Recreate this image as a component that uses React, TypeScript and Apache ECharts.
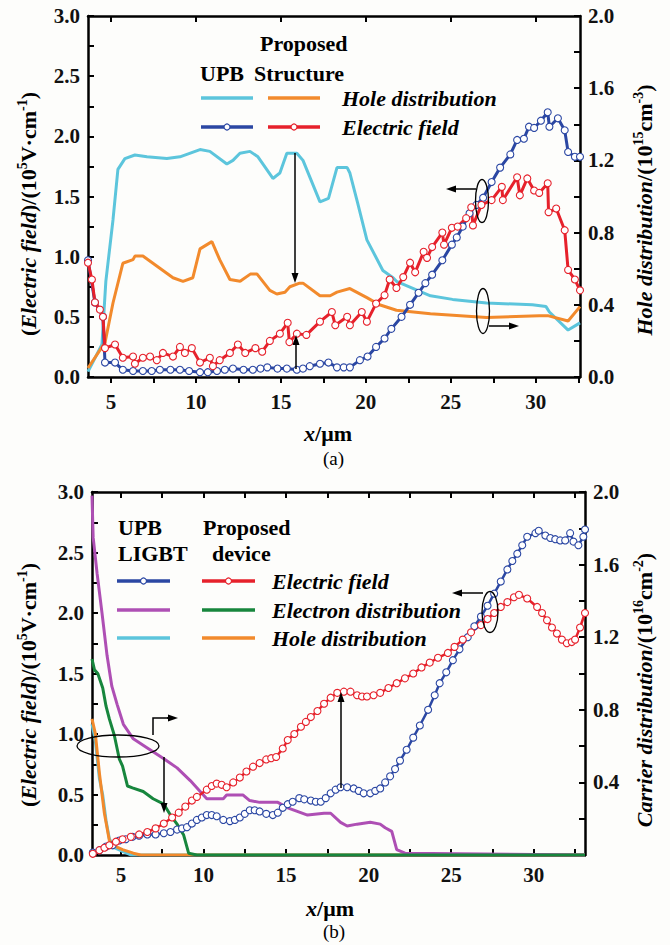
import React, { useEffect, useRef } from "react";
import * as echarts from "echarts";

type Pt = [number, number];

// ---------- Panel (a): x in µm ----------
// hole distribution, 10^15 cm^-3 (right axis)
const aUpbHole: Pt[] = [
  [3.65, 0.03], [4.47, 0.18], [4.7, 0.53], [5.12, 0.87], [5.41, 1.15], [5.82, 1.21], [6.41, 1.23],
  [7.12, 1.22], [8.29, 1.21], [9.06, 1.22], [10.24, 1.26], [10.82, 1.25], [11.82, 1.18], [12.18, 1.2],
  [12.59, 1.24], [13.18, 1.25], [13.65, 1.22], [14.53, 1.1], [14.94, 1.13], [15.35, 1.24], [15.94, 1.24],
  [16.3, 1.2], [17.3, 0.97], [17.8, 0.99], [18.3, 1.16], [18.9, 1.16], [19.06, 1.13], [19.5, 0.97],
  [20.06, 0.76], [21.0, 0.59], [21.6, 0.55], [21.8, 0.53], [22.8, 0.49], [23.8, 0.45], [25.1, 0.43],
  [27.1, 0.41], [29.8, 0.4], [30.6, 0.39], [30.8, 0.36], [31.9, 0.26], [32.6, 0.3],
];
const aPropHole: Pt[] = [
  [3.65, 0.05], [4.65, 0.19], [5.12, 0.41], [5.7, 0.63], [6.3, 0.65], [6.41, 0.67], [6.88, 0.67],
  [8.65, 0.55], [9.24, 0.53], [9.82, 0.55], [10.24, 0.71], [10.94, 0.75], [11.4, 0.65], [12.0, 0.54],
  [12.6, 0.53], [13.2, 0.57], [13.6, 0.57], [14.35, 0.48], [14.76, 0.46], [15.24, 0.47], [15.53, 0.5],
  [16.1, 0.52], [16.3, 0.52], [17.3, 0.45], [17.9, 0.45], [18.3, 0.47], [19.06, 0.49], [20.06, 0.44],
  [20.8, 0.4], [21.8, 0.37], [22.8, 0.36], [23.8, 0.35], [27.1, 0.33], [30.2, 0.34], [30.7, 0.34],
  [31.9, 0.31], [32.6, 0.39],
];
// electric field, 10^5 V/cm (left axis)
const aUpbField: Pt[] = [
  [3.65, 0.97], [4.06, 0.62], [4.53, 0.5], [4.65, 0.12], [5.24, 0.12], [5.7, 0.06], [6.3, 0.05],
  [6.88, 0.05], [7.4, 0.05], [7.88, 0.06], [8.5, 0.06], [9.06, 0.06], [9.6, 0.05], [10.24, 0.04],
  [10.7, 0.04], [11.24, 0.05], [11.7, 0.06], [12.18, 0.07], [12.8, 0.06], [13.35, 0.06], [13.8, 0.07],
  [14.2, 0.08], [14.8, 0.07], [15.35, 0.07], [15.94, 0.06], [16.3, 0.07], [16.7, 0.09], [17.3, 0.11],
  [17.8, 0.12], [18.3, 0.08], [18.7, 0.08], [19.06, 0.08], [19.65, 0.14], [20.1, 0.17], [20.6, 0.25],
  [21.1, 0.32], [21.5, 0.4], [22.1, 0.5], [22.6, 0.6], [23.1, 0.7], [23.5, 0.78], [23.9, 0.85],
  [24.5, 0.97], [25.06, 1.1], [25.35, 1.16], [25.7, 1.25], [26.1, 1.36], [26.5, 1.43], [26.9, 1.49],
  [27.4, 1.62], [27.9, 1.74], [28.5, 1.85], [28.9, 1.97], [29.3, 1.98], [29.6, 2.08], [29.9, 2.07],
  [30.3, 2.13], [30.7, 2.2], [30.8, 2.08], [31.3, 2.15], [31.7, 2.05], [31.9, 1.87], [32.3, 1.83],
  [32.6, 1.83],
];
const aPropField: Pt[] = [
  [3.65, 0.95], [3.88, 0.81], [4.06, 0.62], [4.35, 0.56], [4.53, 0.5], [4.65, 0.24], [5.24, 0.27],
  [5.7, 0.16], [6.3, 0.17], [6.41, 0.11], [6.88, 0.16], [7.3, 0.17], [7.7, 0.14], [8.06, 0.2],
  [8.65, 0.17], [9.06, 0.25], [9.35, 0.2], [9.76, 0.24], [10.24, 0.12], [10.82, 0.16], [11.0, 0.09],
  [11.4, 0.14], [12.0, 0.2], [12.47, 0.27], [12.9, 0.2], [13.5, 0.24], [13.9, 0.21], [14.35, 0.3],
  [14.94, 0.36], [15.4, 0.45], [15.5, 0.29], [15.94, 0.36], [16.5, 0.35], [17.3, 0.46], [18.0, 0.54],
  [18.2, 0.43], [18.9, 0.5], [19.06, 0.43], [19.76, 0.54], [20.06, 0.46], [20.6, 0.61], [21.1, 0.68],
  [21.4, 0.81], [21.8, 0.74], [22.2, 0.83], [22.6, 0.95], [22.9, 0.87], [23.4, 1.04], [23.6, 0.99],
  [23.9, 1.08], [24.5, 1.2], [24.6, 1.1], [25.06, 1.24], [25.4, 1.25], [25.9, 1.32], [26.2, 1.41],
  [26.3, 1.26], [26.8, 1.43], [27.4, 1.47], [28.0, 1.58], [28.06, 1.47], [28.9, 1.66], [29.06, 1.51],
  [29.5, 1.65], [29.9, 1.55], [30.2, 1.53], [30.7, 1.61], [30.75, 1.37], [31.2, 1.4], [31.7, 1.22],
  [31.9, 0.89], [32.3, 0.81], [32.6, 0.72],
];

// ---------- Panel (b) ----------
// electric field, 10^5 V/cm (left axis)
const bUpbField: Pt[] = [
  [3.3, 0.02], [3.7, 0.04], [4.1, 0.07], [4.5, 0.08], [4.9, 0.12], [5.3, 0.13], [5.7, 0.15], [6.1, 0.16],
  [6.6, 0.17], [7.1, 0.17], [7.6, 0.18], [8.0, 0.19], [8.4, 0.21], [8.7, 0.22], [9.0, 0.23], [9.3, 0.26],
  [9.6, 0.29], [9.9, 0.31], [10.2, 0.33], [10.5, 0.33], [10.8, 0.32], [11.2, 0.29], [11.6, 0.28],
  [11.9, 0.29], [12.2, 0.31], [12.5, 0.34], [12.8, 0.37], [13.1, 0.37], [13.4, 0.36], [13.8, 0.34],
  [14.2, 0.33], [14.5, 0.35], [14.8, 0.39], [15.1, 0.42], [15.4, 0.44], [15.8, 0.47], [16.1, 0.46],
  [16.5, 0.45], [16.8, 0.44], [17.1, 0.44], [17.4, 0.47], [17.7, 0.51], [18.0, 0.54], [18.3, 0.56],
  [18.7, 0.56], [19.1, 0.55], [19.4, 0.53], [19.7, 0.51], [20.1, 0.51], [20.4, 0.53], [20.7, 0.55],
  [21.0, 0.6], [21.3, 0.65], [21.6, 0.71], [21.9, 0.78], [22.3, 0.87], [22.7, 0.97], [23.1, 1.07],
  [23.6, 1.2], [24.0, 1.32], [24.3, 1.42], [24.7, 1.51], [25.1, 1.61], [25.5, 1.7], [26.0, 1.8],
  [26.4, 1.89], [26.8, 1.97], [27.2, 2.06], [27.6, 2.16], [28.0, 2.26], [28.4, 2.36], [28.7, 2.43],
  [29.0, 2.49], [29.3, 2.56], [29.6, 2.63], [30.1, 2.66], [30.3, 2.68], [30.7, 2.64], [31.0, 2.62],
  [31.3, 2.61], [31.6, 2.6], [31.9, 2.6], [32.2, 2.66], [32.4, 2.59], [32.7, 2.56], [33.0, 2.63],
  [33.1, 2.69],
];
const bPropField: Pt[] = [
  [3.3, 0.01], [3.7, 0.04], [4.0, 0.06], [4.3, 0.08], [4.7, 0.11], [5.1, 0.13], [5.6, 0.15], [6.1, 0.17],
  [6.6, 0.19], [7.1, 0.22], [7.6, 0.26], [8.1, 0.31], [8.5, 0.35], [8.9, 0.4], [9.3, 0.45], [9.6, 0.48],
  [10.2, 0.54], [10.5, 0.57], [10.8, 0.59], [11.1, 0.58], [11.4, 0.56], [11.8, 0.6], [12.2, 0.64],
  [12.6, 0.69], [13.0, 0.73], [13.4, 0.76], [13.8, 0.79], [14.1, 0.8], [14.4, 0.81], [14.8, 0.88],
  [15.1, 0.95], [15.5, 1.0], [15.9, 1.06], [16.2, 1.1], [16.5, 1.14], [16.9, 1.19], [17.3, 1.25],
  [17.7, 1.3], [18.1, 1.34], [18.5, 1.35], [18.9, 1.35], [19.3, 1.32], [19.6, 1.31], [19.9, 1.31],
  [20.3, 1.32], [20.7, 1.34], [21.2, 1.38], [21.7, 1.42], [22.2, 1.46], [22.7, 1.5], [23.2, 1.55],
  [23.7, 1.59], [24.2, 1.63], [24.8, 1.67], [25.2, 1.72], [25.7, 1.78], [26.2, 1.84], [26.8, 1.9],
  [27.2, 1.95], [27.6, 2.0], [28.0, 2.05], [28.4, 2.09], [28.8, 2.13], [29.1, 2.15], [29.6, 2.12],
  [30.2, 2.05], [30.5, 2.0], [30.8, 1.94], [31.1, 1.88], [31.4, 1.83], [31.7, 1.78], [32.0, 1.75],
  [32.3, 1.76], [32.5, 1.78], [32.8, 1.88], [33.1, 2.0],
];
// carrier distribution, 10^16 cm^-2 (right axis)
const bUpbElectron: Pt[] = [
  [3.25, 1.98], [3.32, 1.75], [3.56, 1.55], [3.86, 1.33], [4.16, 1.1], [4.45, 0.93], [4.77, 0.83],
  [5.15, 0.72], [5.75, 0.64], [6.6, 0.59], [7.6, 0.53], [8.4, 0.48], [9.2, 0.41], [9.8, 0.35],
  [10.2, 0.31], [11.2, 0.31], [11.4, 0.33], [12.4, 0.33], [12.8, 0.3], [13.4, 0.29], [14.5, 0.29],
  [15.1, 0.26], [16.3, 0.22], [17.3, 0.23], [17.7, 0.23], [18.3, 0.18], [18.7, 0.16], [19.3, 0.17],
  [20.1, 0.18], [20.7, 0.17], [21.0, 0.15], [21.4, 0.13], [21.7, 0.03], [22.2, 0.01], [33.1, 0.0],
];
const bPropElectron: Pt[] = [
  [3.25, 1.08], [3.4, 1.02], [3.6, 1.0], [3.9, 0.92], [4.1, 0.82], [4.3, 0.75], [4.6, 0.66], [4.9, 0.53],
  [5.1, 0.49], [5.4, 0.38], [5.7, 0.37], [6.35, 0.35], [6.95, 0.31], [7.6, 0.28], [8.0, 0.22],
  [8.4, 0.17], [8.8, 0.11], [9.1, 0.01], [9.6, 0.0], [33.1, 0.0],
];
const bUpbHole: Pt[] = [
  [3.25, 0.72], [3.45, 0.63], [3.7, 0.42], [3.9, 0.33], [4.1, 0.19], [4.3, 0.09], [4.6, 0.04],
  [5.1, 0.02], [5.6, 0.0], [33.1, 0.0],
];
const bPropHole: Pt[] = [
  [3.25, 0.75], [3.45, 0.67], [3.7, 0.45], [4.0, 0.23], [4.3, 0.08], [4.6, 0.05], [5.1, 0.03],
  [5.75, 0.01], [6.2, 0.0], [33.1, 0.0],
];

// tick positions
const xLabelTicks = [5, 10, 15, 20, 25, 30];
const xAllTicks = [5, 7.5, 10, 12.5, 15, 17.5, 20, 22.5, 25, 27.5, 30, 32.5];

const FONT = "Liberation Serif";
const COL = {
  cyan: "#5cc5dc",
  orange: "#f28a2c",
  blue: "#2b47a3",
  red: "#e6212b",
  purple: "#ae4fb4",
  green: "#17863d",
};

const labelStyle = { fontFamily: FONT, fontWeight: "bold", fontSize: 21, color: "#111" };
const axisLine = { show: true, onZero: false, lineStyle: { color: "#000", width: 2.5 } };
const tickLine = { color: "#000", width: 2 };

function xAxisDef(grid: number, min: number, max: number, pos: "top" | "bottom", ticks: number[], labels: number[] | null, inside: boolean, margin: number) {
  return {
    type: "value", gridIndex: grid, min, max, position: pos,
    axisLine,
    splitLine: { show: false },
    axisTick: { show: true, inside, length: 6, lineStyle: tickLine, customValues: ticks },
    axisLabel: labels
      ? { show: true, ...labelStyle, margin, customValues: labels, formatter: (v: number) => String(v) }
      : { show: false },
  };
}

function yAxisDef(grid: number, max: number, interval: number, pos: "left" | "right", hideZero: boolean) {
  return {
    type: "value", gridIndex: grid, min: 0, max, interval, position: pos,
    axisLine,
    splitLine: { show: false },
    axisTick: { show: true, inside: true, length: 6, lineStyle: tickLine },
    minorTick: { show: true, splitNumber: 2, length: 6, lineStyle: tickLine },
    axisLabel: {
      ...labelStyle, margin: 8,
      formatter: (v: number) => (hideZero && v === 0 ? "" : v.toFixed(1)),
    },
  };
}

function plain(name: string, data: Pt[], color: string, xi: number, yi: number, width = 3) {
  return {
    type: "line", name, data, xAxisIndex: xi, yAxisIndex: yi,
    symbol: "none", lineStyle: { color, width }, itemStyle: { color }, z: 3,
  };
}

function marked(name: string, data: Pt[], color: string, xi: number, yi: number, size: number, width: number) {
  return {
    type: "line", name, data, xAxisIndex: xi, yAxisIndex: yi,
    symbol: "circle", symbolSize: size, showSymbol: true, showAllSymbol: true,
    lineStyle: { color, width },
    itemStyle: { color: "#fff", borderColor: color, borderWidth: 1.1 },
    z: 4,
  };
}

// ---------- graphic helpers ----------
function arrow(x1: number, y1: number, x2: number, y2: number) {
  const dx = x2 - x1, dy = y2 - y1;
  const len = Math.hypot(dx, dy);
  const ux = dx / len, uy = dy / len;
  const L = 10, W = 3.5;
  const bx = x2 - ux * L, by = y2 - uy * L;
  return [
    { type: "line", z: 100, shape: { x1, y1, x2: bx, y2: by }, style: { stroke: "#000", lineWidth: 1.5 } },
    {
      type: "polygon", z: 100,
      shape: { points: [[x2, y2], [bx - uy * W, by + ux * W], [bx + uy * W, by - ux * W]] },
      style: { fill: "#000" },
    },
  ];
}

function ellipse(cx: number, cy: number, rx: number, ry: number) {
  return { type: "ellipse", z: 100, shape: { cx, cy, rx, ry }, style: { fill: "none", stroke: "#000", lineWidth: 1.3 } };
}

function text(x: number, y: number, t: string, italic = false, size = 22, weight = "bold") {
  return {
    type: "text", x, y, z: 100,
    style: {
      text: t, fill: "#000", fontFamily: FONT, fontSize: size, fontWeight: weight,
      fontStyle: italic ? "italic" : "normal", align: "left", verticalAlign: "middle",
    },
  };
}

function legendLine(x1: number, x2: number, y: number, color: string, marker: boolean) {
  const items: any[] = [
    { type: "line", z: 100, shape: { x1, y1: y, x2, y2: y }, style: { stroke: color, lineWidth: 3.5 } },
  ];
  if (marker) {
    items.push({
      type: "circle", z: 101, shape: { cx: (x1 + x2) / 2, cy: y, r: 3 },
      style: { fill: "#fff", stroke: color, lineWidth: 1.2 },
    });
  }
  return items;
}

const richBase = {
  n: { fontFamily: FONT, fontSize: 22, fontWeight: "bold", fill: "#000", lineHeight: 26 },
  i: { fontFamily: FONT, fontSize: 22, fontWeight: "bold", fontStyle: "italic", fill: "#000", lineHeight: 26 },
  s: { fontFamily: FONT, fontSize: 14, fontWeight: "bold", fill: "#000", verticalAlign: "top", lineHeight: 26 },
};

function vTitle(x: number, y: number, t: string) {
  return {
    type: "text", x, y, z: 100, rotation: Math.PI / 2,
    style: { text: t, rich: richBase, align: "center", verticalAlign: "middle" },
  };
}

function xTitle(x: number, y: number) {
  return {
    type: "text", x, y, z: 100,
    style: { text: "{i|x}{n|/μm}", rich: richBase, align: "center", verticalAlign: "middle" },
  };
}

export default function App() {
  const ref = useRef<HTMLDivElement>(null);

  useEffect(() => {
    document.body.style.margin = "0";
    if (!ref.current) return;
    const chart = echarts.init(ref.current, undefined, { renderer: "svg" });

    const graphics: any[] = [
      // panel (a) legend
      text(260, 43, "Proposed"),
      text(200, 73, "UPB"),
      text(254, 73, "Structure"),
      ...legendLine(201, 253, 98, COL.cyan, false),
      ...legendLine(268, 320, 98, COL.orange, false),
      ...legendLine(201, 253, 127, COL.blue, true),
      ...legendLine(268, 320, 127, COL.red, true),
      text(342, 98, "Hole distribution", true),
      text(342, 127, "Electric field", true),
      // panel (a) annotations
      ...arrow(295, 153, 295, 283),
      ...arrow(296, 369, 296, 335),
      ellipse(482, 201, 6.5, 21.5),
      ...arrow(476, 189, 446, 189),
      ellipse(483, 311, 6.5, 22.5),
      ...arrow(489, 326, 519, 326),
      // panel (a) titles
      vTitle(28, 214, "{n|(}{i|Electric field}{n|)/(10}{s|5}{n|V·cm}{s|-1}{n|)}"),
      vTitle(644, 210, "{i|Hole distribution}{n|/(10}{s|15}{n|cm}{s|-3}{n|)}"),
      xTitle(328, 433),
      text(323, 458, "(a)", false, 19, "normal"),

      // panel (b) legend
      text(118, 527, "UPB"),
      text(118, 553, "LIGBT"),
      text(203, 527, "Proposed"),
      text(212, 553, "device"),
      ...legendLine(117, 170, 581, COL.blue, true),
      ...legendLine(202, 255, 581, COL.red, true),
      ...legendLine(117, 170, 610, COL.purple, false),
      ...legendLine(202, 255, 610, COL.green, false),
      ...legendLine(117, 170, 638, COL.cyan, false),
      ...legendLine(202, 255, 638, COL.orange, false),
      text(272, 581, "Electric field", true),
      text(272, 610, "Electron distribution", true),
      text(272, 638, "Hole distribution", true),
      // panel (b) annotations
      ellipse(118, 746, 41, 11),
      {
        type: "polyline", z: 100,
        shape: { points: [[153, 735], [153, 718], [168, 718]] },
        style: { stroke: "#000", lineWidth: 1.5, fill: "none" },
      },
      ...arrow(167, 718, 178, 718),
      ...arrow(164, 757, 164, 813),
      ...arrow(341, 788, 341, 692),
      ellipse(490, 612, 8, 20.5),
      ...arrow(483, 593, 452, 593),
      // panel (b) titles
      vTitle(28, 685, "{n|(}{i|Electric field}{n|)/(10}{s|5}{n|V·cm}{s|-1}{n|)}"),
      vTitle(644, 690, "{i|Carrier distribution}{n|/(10}{s|16}{n|cm}{s|-2}{n|)}"),
      xTitle(330, 908),
      text(323, 931, "(b)", false, 19, "normal"),
    ];

    chart.setOption({
      animation: false,
      backgroundColor: "#fdfdfb",
      grid: [
        { left: 88, top: 16, width: 492, height: 361 },
        { left: 92, top: 492, width: 493, height: 363 },
      ],
      xAxis: [
        xAxisDef(0, 3.65, 32.6, "bottom", xAllTicks, xLabelTicks, false, 14),
        xAxisDef(0, 3.65, 32.6, "top", xLabelTicks, null, true, 8),
        xAxisDef(1, 3.25, 33.1, "bottom", xAllTicks, xLabelTicks, true, 9),
        xAxisDef(1, 3.25, 33.1, "top", xAllTicks, null, true, 8),
      ],
      yAxis: [
        yAxisDef(0, 3, 0.5, "left", false),
        yAxisDef(0, 2, 0.4, "right", false),
        yAxisDef(1, 3, 0.5, "left", false),
        yAxisDef(1, 2, 0.4, "right", true),
      ],
      series: [
        plain("UPB hole distribution (a)", aUpbHole, COL.cyan, 0, 1),
        plain("Proposed hole distribution (a)", aPropHole, COL.orange, 0, 1),
        marked("UPB electric field (a)", aUpbField, COL.blue, 0, 0, 7, 3),
        marked("Proposed electric field (a)", aPropField, COL.red, 0, 0, 7, 3),

        plain("UPB hole distribution (b)", bUpbHole, COL.cyan, 2, 3),
        plain("Proposed hole distribution (b)", bPropHole, COL.orange, 2, 3),
        plain("UPB electron distribution (b)", bUpbElectron, COL.purple, 2, 3),
        plain("Proposed electron distribution (b)", bPropElectron, COL.green, 2, 3),
        marked("UPB electric field (b)", bUpbField, COL.blue, 2, 2, 7, 2.5),
        marked("Proposed electric field (b)", bPropField, COL.red, 2, 2, 7, 2.5),
      ],
      graphic: graphics,
    });

    return () => chart.dispose();
  }, []);

  return <div ref={ref} style={{ width: 670, height: 945 }} />;
}
